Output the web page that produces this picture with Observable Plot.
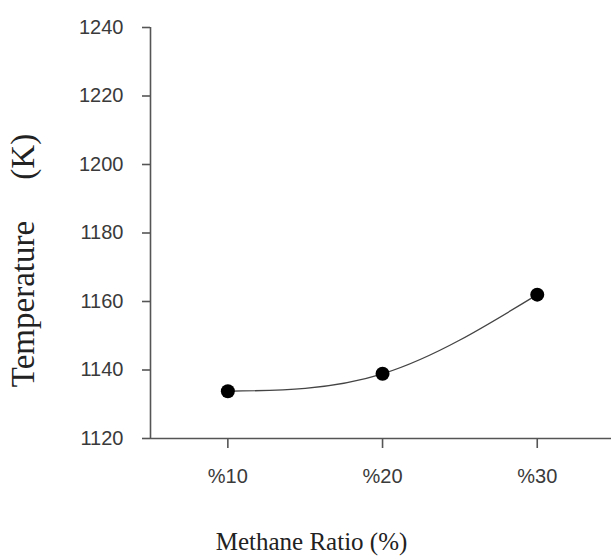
<!DOCTYPE html>
<html>
<head>
<meta charset="utf-8">
<script src="https://cdn.jsdelivr.net/npm/d3@7"></script>
<script src="https://cdn.jsdelivr.net/npm/@observablehq/plot@0.6"></script>
<style>
  body { margin: 0; background: #fff; }
  #chart svg { display: block; }
</style>
</head>
<body>
<div id="chart"></div>
<script>
const ratios = [10, 20, 30];
const tickLabels = ["%10", "%20", "%30"];
const temperatures = [1133.8, 1138.9, 1162];
const yTicks = [1120, 1140, 1160, 1180, 1200, 1220, 1240];
const xTitle = "Methane Ratio (%)";
const yTitle = "Temperature\u00a0\u00a0\u00a0\u00a0\u00a0(K)";

const data = ratios.map((r, i) => ({ratio: r, temp: temperatures[i]}));

const axisColor = "#555";
const sans = "Liberation Sans, Arial, sans-serif";
const serif = "Liberation Serif, Times New Roman, serif";
const plot = Plot.plot({
  width: 611,
  height: 558,
  marginLeft: 150,
  marginRight: 0,
  marginTop: 27,
  marginBottom: 120,
  style: {background: "#fff", color: "#333"},
  x: {domain: [5, 34.8]},
  y: {domain: [1120, 1240]},
  marks: [
    Plot.ruleY([1120], {stroke: axisColor, strokeWidth: 1.6}),
    Plot.ruleX([5], {stroke: axisColor, strokeWidth: 1.6}),
    Plot.axisY({ticks: yTicks, tickSize: 8, tickPadding: 19, label: null, tickFormat: "d",
      fontSize: 20, fontFamily: sans, stroke: axisColor, strokeWidth: 1.6, fill: "#3a3a3a"}),
    Plot.axisX({ticks: ratios, tickSize: 10, tickPadding: 20, label: null,
      tickFormat: (d) => tickLabels[ratios.indexOf(d)],
      fontSize: 20, fontFamily: sans, stroke: axisColor, strokeWidth: 1.6, fill: "#3a3a3a"}),
    Plot.line(data, {x: "ratio", y: "temp", curve: "natural", stroke: "#444", strokeWidth: 1.3}),
    Plot.dot(data, {x: "ratio", y: "temp", r: 7, fill: "#000", stroke: "none"}),
    Plot.text([xTitle], {frameAnchor: "bottom", lineAnchor: "bottom", textAnchor: "middle", dx: -69.5, dy: 111, text: d => d,
      fontSize: 25, fontFamily: serif, fill: "#222"}),
    Plot.text([yTitle], {frameAnchor: "left", textAnchor: "middle", lineAnchor: "middle", dx: -127, dy: 27.5, rotate: -90, text: d => d,
      fontSize: 33, fontFamily: serif, fill: "#222"})
  ]
});
document.getElementById("chart").appendChild(plot);
</script>
</body>
</html>
